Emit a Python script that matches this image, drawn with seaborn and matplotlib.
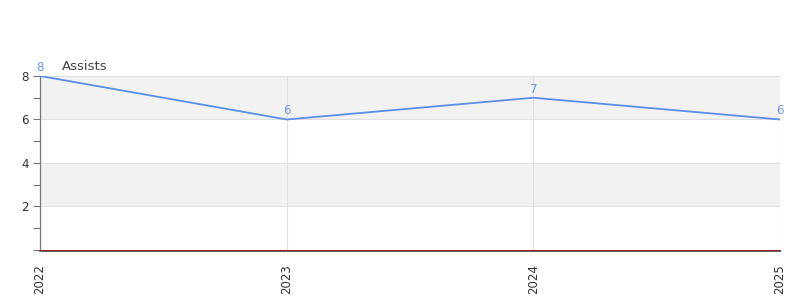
import matplotlib
matplotlib.use("Agg")
import matplotlib.pyplot as plt
import seaborn as sns
import pandas as pd
from matplotlib.ticker import MultipleLocator

years = [2022, 2023, 2024, 2025]
assists = [8, 6, 7, 6]
year_labels = ["2022", "2023", "2024", "2025"]

sns.set_theme(style="white")
plt.rcParams['font.family'] = ['DejaVu Sans']

df = pd.DataFrame({"year": years, "assists": assists})

fig = plt.figure(figsize=(8, 3), dpi=100)
ax = fig.add_axes([0.05, 0.1667, 0.925, 0.58])

for s in ["top", "right"]:
    ax.spines[s].set_visible(False)
ax.spines["left"].set_color("#777777")
ax.spines["left"].set_linewidth(0.9)
ax.spines["bottom"].set_position(("outward", 1))
ax.spines["bottom"].set_color("#555555")
ax.spines["bottom"].set_linewidth(1.3)

line_color = "#5b8ee8"
# bands
for lo, hi, c in [(0, 2, "#ffffff"), (2, 4, "#f2f2f2"), (4, 6, "#ffffff"), (6, 8, "#f2f2f2")]:
    ax.axhspan(lo, hi, color=c, zorder=0, lw=0)
for y in [2, 4, 6, 8]:
    ax.axhline(y, color="#e0e0e0", lw=0.8, zorder=0.5)
for x in years[1:]:
    ax.axvline(x, color="#e0e0e0", lw=0.8, zorder=0.5)

sns.lineplot(data=df, x="year", y="assists", ax=ax, color=line_color, lw=1.3, zorder=3)

for x, y in zip(years, assists):
    ax.annotate(str(y), (x, y), xytext=(0, 1.5), textcoords="offset points",
                ha="center", va="bottom", color="#7096e0", fontsize=8.5, zorder=5)

ax.set_xlim(years[0], years[-1])
ax.set_ylim(0, 8)
ax.set_xticks(years)
ax.set_xticklabels(year_labels, rotation=90, fontsize=8.5, color="#333333")
ax.set_yticks([0, 2, 4, 6, 8])
ax.set_yticklabels(["", "2", "4", "6", "8"], fontsize=8.5, color="#333333")
ax.yaxis.set_minor_locator(MultipleLocator(1))
ax.tick_params(axis="y", which="both", left=True, length=5, width=0.8, color="#777777", pad=3)
ax.tick_params(axis="x", bottom=False, pad=3)
ax.set_xlabel("")
ax.set_ylabel("")

ax.axhline(0, color="#a01010", lw=0.6, zorder=4, clip_on=False)

fig.text(62 / 800, 1 - 66 / 300, "Assists", fontsize=9.5, color="#444444", ha="left", va="center")

fig.savefig("out.png", dpi=100)
